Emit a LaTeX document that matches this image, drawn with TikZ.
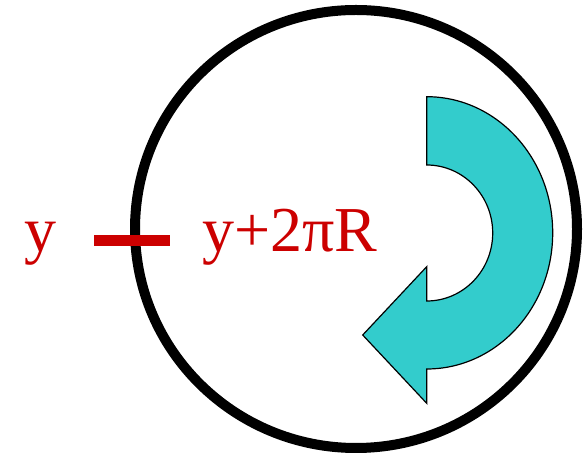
\documentclass[tikz,border=0pt]{standalone}
\usepackage{fontspec}
\setmainfont{Liberation Serif}
\definecolor{lred}{RGB}{204,0,0}
\definecolor{lcyan}{RGB}{51,204,204}
\begin{document}
\begin{tikzpicture}[x=1pt,y=1pt,
  lbl/.style={anchor=base west,inner sep=0pt,text=lred,font=\fontsize{64}{70}\selectfont},
  ring/.style={draw=black,line width=10pt},
  bar/.style={draw=lred,line width=11pt},
  turn/.style={fill=lcyan,draw=black,line width=1.2pt,line join=miter}]
\useasboundingbox (0,0) rectangle (585,454);
\draw[ring] (356,225) ellipse [x radius=221, y radius=219];
\coordinate (b1) at (94,213.5);
\coordinate (b2) at (170,213.5);
\draw[bar] (b1) -- (b2);
\node[lbl] (ly) at (24,202) {y};
\node[lbl] (ly2) at (202,202) {y+2πR};
\draw[turn] (426.7,357.3) arc [start angle=90, end angle=-90, x radius=126, y radius=136.15]
  -- (426.7,50.7) -- (362.7,119) -- (426.7,187.3) -- (426.7,153)
  arc [start angle=-90, end angle=90, x radius=66, y radius=68] -- cycle;
\end{tikzpicture}
\end{document}
